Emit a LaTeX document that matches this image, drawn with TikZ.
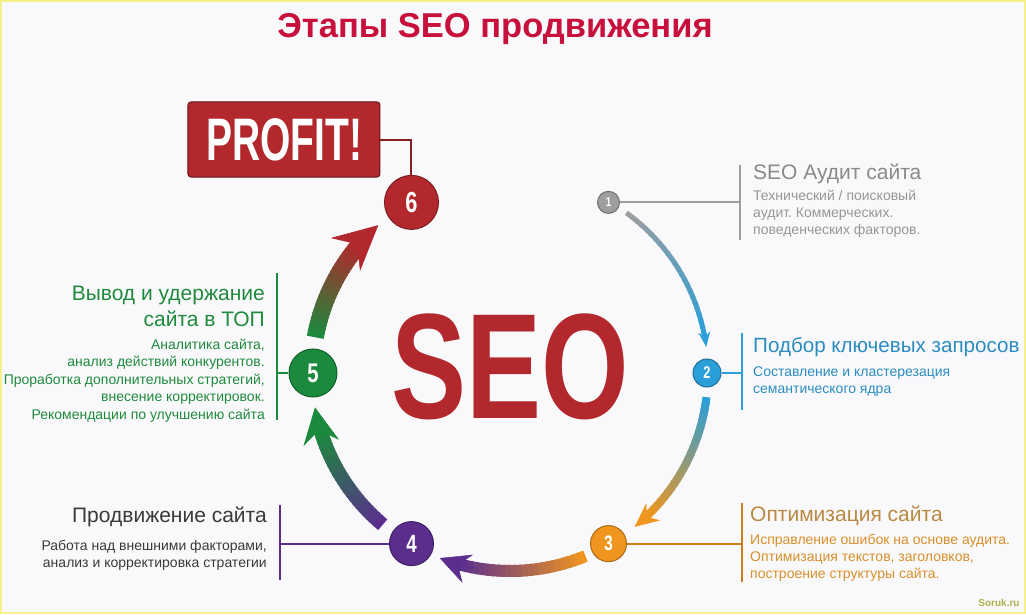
\documentclass[tikz,border=0pt]{standalone}
\usepackage{fontspec}
\setmainfont{Liberation Sans}
\usepackage{graphicx}
\usetikzlibrary{arrows.meta}
\frenchspacing

\definecolor{bgpaper}{HTML}{F9F9FB}
\definecolor{edgeyellow}{HTML}{F6F08A}
\definecolor{titlered}{HTML}{C8103C}
\definecolor{seogray}{HTML}{9E9E9E}
\definecolor{seoblue}{HTML}{2A9FD8}
\definecolor{seoorange}{HTML}{F0961E}
\definecolor{seopurple}{HTML}{5B2E8E}
\definecolor{seogreen}{HTML}{1B8A3C}
\definecolor{seored}{HTML}{B3282D}
\definecolor{graytext}{HTML}{8A8A8A}
\definecolor{bluetext}{HTML}{2A8CC0}
\definecolor{orangetitle}{HTML}{B98A40}
\definecolor{orangetext}{HTML}{D8902A}
\definecolor{darktext}{HTML}{3A3A3A}
\definecolor{greentext}{HTML}{1F8A3C}
\definecolor{marktext}{HTML}{B2AE4C}

\tikzset{
  stagedot/.style={circle, fill=#1, draw=#1!70!black, line width=1pt, text=white, inner sep=0pt},
  stagebar/.style={line width=2.5pt, draw=#1},
  stagelink/.style={line width=2pt, draw=#1},
  stagetitle/.style={font=\fontsize{21}{26}\selectfont, inner sep=0pt},
  stagebody/.style={font=\fontsize{14}{17}\selectfont, inner sep=0pt},
  profitbox/.style={fill=seored, draw=seored!55!black, line width=1pt, rounded corners=3pt,
    minimum width=192pt, minimum height=75pt, text=white, font=\bfseries\fontsize{60}{60}\selectfont},
}

% gradient arc with a barbed head: start, tip, width, colour from, colour to, head length, head width
\newcommand{\seoarc}[7]{%
  \pgfmathsetmacro{\arcend}{#2+0.6*#6/\R*57.3}
  \foreach \k in {0,...,23}{%
    \pgfmathsetmacro{\segA}{#1+(\arcend-#1)*\k/24}
    \pgfmathsetmacro{\segB}{#1+(\arcend-#1)*min(\k+1.4,24)/24}
    \pgfmathtruncatemacro{\pp}{100-100*\k/23}
    \draw[line width=#3pt, draw=#4!\pp!#5] (\segA:\R) arc[start angle=\segA, end angle=\segB, radius=\R];
  }
  \pgfmathsetmacro{\headstart}{#2+1.3*#6/\R*57.3}
  \pgfmathsetmacro{\headinset}{0.35*#6}
  \draw[line width=0.5pt, draw=#5, fill=#5, -{Stealth[length=#6pt, width=#7pt, inset=\headinset pt]}]
    (\headstart:\R) arc[start angle=\headstart, end angle=#2, radius=\R];
}

\begin{document}
\begin{tikzpicture}[x=1pt, y=1pt]
    \def\R{198pt}
    % paper
    \fill[bgpaper] (-510,-241) rectangle (516,373);
    \draw[edgeyellow, line width=2pt] (-509,-240) rectangle (515,372);
    \useasboundingbox (-510,-241) rectangle (516,373);

    % title
    \node[font=\bfseries\fontsize{34.5}{36}\selectfont, text=titlered] (title) at (-15,344) {Этапы SEO продвижения};

    % big word in the middle
    \node[text=seored, font=\bfseries\fontsize{150}{150}\selectfont] (seo) at (0,6.5) {\scalebox{0.75}[1]{SEO}};

    % arrows of the cycle
    \seoarc{54}{7.6}{5}{seogray}{seoblue}{15}{12}
    \seoarc{-7}{-51}{8}{seoblue}{seoorange}{24}{22}
    \seoarc{-67.6}{-110.8}{12}{seoorange}{seopurple}{30}{30}
    \seoarc{-130}{-170}{14}{seopurple}{seogreen}{36}{36}
    \seoarc{169.6}{131.7}{17}{seogreen}{seored}{44}{44}

    % numbered stages
    \foreach \a/\i/\c/\d/\fs in {60/1/seogray/22/13, 0/2/seoblue/28/17, -60/3/seoorange/36/21,
                                 -120/4/seopurple/44/25, 180/5/seogreen/48/27, 120/6/seored/54/29}{%
        \node[stagedot=\c, minimum size=\d pt, font=\bfseries\fontsize{\fs}{\fs}\selectfont] (n\i) at (\a:197pt) {\scalebox{0.75}[1]{\i}};
    }

    % PROFIT!
    \node[profitbox] (profit) at (-226,233.5) {\scalebox{0.65}[1]{PROFIT!}};
    \draw[stagelink=seored!75!black] (profit.east) -| (n6);

    % stage 1
    \coordinate (bar1top) at (230,208);
    \coordinate (bar1bot) at (230,133);
    \draw[stagebar=seogray] (bar1top) -- (bar1bot);
    \draw[stagelink=seogray] (n1) -- (n1 -| bar1top);
    \node[stagetitle, text=graytext, anchor=base west] (t1) at (243,194) {SEO Аудит сайта};
    \node[stagebody, text=graytext!90, anchor=base west, align=left] (b1) at (243,139)
        {Технический / поисковый\\аудит. Коммерческих.\\поведенческих факторов.};

    % stage 2
    \coordinate (bar2top) at (232,40);
    \coordinate (bar2bot) at (232,-37);
    \draw[stagebar=seoblue] (bar2top) -- (bar2bot);
    \draw[stagelink=seoblue] (n2) -- (n2 -| bar2top);
    \node[stagetitle, text=bluetext, anchor=base west, font=\fontsize{20.6}{26}\selectfont] (t2) at (243,21) {Подбор ключевых запросов};
    \node[stagebody, text=bluetext, anchor=base west, align=left] (b2) at (243,-20)
        {Составление и кластерезация\\семантического ядра};

    % stage 3
    \coordinate (bar3top) at (232,-130);
    \coordinate (bar3bot) at (232,-209);
    \draw[stagebar=seoorange!85!black] (bar3top) -- (bar3bot);
    \draw[stagelink=seoorange!85!black] (n3) -- (n3 -| bar3top);
    \node[stagetitle, text=orangetitle, anchor=base west] (t3) at (240,-148) {Оптимизация сайта};
    \node[stagebody, text=orangetext, anchor=base west, align=left] (b3) at (240,-205)
        {Исправление ошибок на основе аудита.\\Оптимизация текстов, заголовков,\\построение структуры сайта.};

    % stage 4
    \coordinate (bar4top) at (-230,-132);
    \coordinate (bar4bot) at (-230,-207);
    \draw[stagebar=seopurple] (bar4top) -- (bar4bot);
    \draw[stagelink=seopurple] (n4) -- (n4 -| bar4top);
    \node[stagetitle, text=darktext, anchor=base east] (t4) at (-243,-149) {Продвижение сайта};
    \node[stagebody, text=darktext, anchor=base east, align=right] (b4) at (-243,-194)
        {Работа над внешними факторами,\\анализ и корректировка стратегии};

    % stage 5
    \coordinate (bar5top) at (-233,100);
    \coordinate (bar5bot) at (-233,-47);
    \draw[stagebar=seogreen] (bar5top) -- (bar5bot);
    \draw[stagelink=seogreen] (n5) -- (n5 -| bar5top);
    \node[stagetitle, text=greentext, anchor=base east, align=right] (t5) at (-245,47)
        {Вывод и удержание\\сайта в ТОП};
    \node[stagebody, text=greentext, anchor=base east, align=right,
          font=\fontsize{14}{17.5}\selectfont] (b5) at (-245,-46)
        {Аналитика сайта,\\анализ действий конкурентов.\\Проработка дополнительных стратегий,\\внесение корректировок.\\Рекомендации по улучшению сайта};

    % watermark
    \node[text=marktext, font=\bfseries\fontsize{10}{10}\selectfont] (mark) at (489,-230) {Soruk.ru};
\end{tikzpicture}
\end{document}
